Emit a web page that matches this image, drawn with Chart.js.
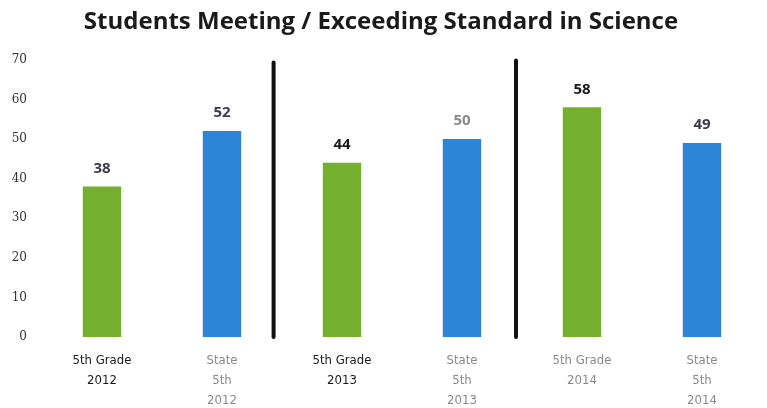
<!DOCTYPE html>
<html>
<head>
<meta charset="utf-8">
<script src="https://cdn.jsdelivr.net/npm/chart.js@4/dist/chart.umd.min.js"></script>
<style>
  html, body { margin: 0; padding: 0; background: #fff; }
  #wrap { width: 767px; height: 408px; }
</style>
</head>
<body>
<div id="wrap"><canvas id="chart"></canvas></div>
<script>
// --------------- Data ---------------
const TITLE = 'Students Meeting / Exceeding Standard in Science';

const categories = [
  ['5th Grade', '2012'],
  ['State', '5th', '2012'],
  ['5th Grade', '2013'],
  ['State', '5th', '2013'],
  ['5th Grade', '2014'],
  ['State', '5th', '2014'],
];
const values      = [38, 52, 44, 50, 58, 49];
const barColors   = ['#74b02e', '#2b84d6', '#74b02e', '#2b84d6', '#74b02e', '#2b84d6'];
const valueColors = ['#3b3b4f', '#3b3b4f', '#1a1a1a', '#8a8a8a', '#1a1a1a', '#3b3b4f'];
const tickColors  = ['#1a1a1a', '#8a8a8a', '#1a1a1a', '#8a8a8a', '#8a8a8a', '#8a8a8a'];

// vertical divider lines: position on the category axis + top value
const dividerPos = [1.43, 3.45];
const dividerTop = [69.3, 69.8];

const Y_MIN = 0, Y_MAX = 70, Y_STEP = 10;

// --------------- Plugins ---------------
const valueLabels = {
  id: 'valueLabels',
  afterDatasetsDraw(chart) {
    const { ctx } = chart;
    const meta = chart.getDatasetMeta(0);
    ctx.save();
    ctx.font = 'bold 15px "Open Sans", sans-serif';
    ctx.textAlign = 'center';
    ctx.textBaseline = 'middle';
    meta.data.forEach((bar, i) => {
      ctx.fillStyle = valueColors[i];
      ctx.fillText(String(values[i]), bar.x, bar.y - 18);
    });
    ctx.restore();
  },
};

const dividers = {
  id: 'dividers',
  afterDatasetsDraw(chart) {
    const { ctx, scales: { x, y } } = chart;
    ctx.save();
    ctx.strokeStyle = '#111';
    ctx.lineWidth = 4;
    ctx.lineCap = 'round';
    dividerPos.forEach((p, i) => {
      const px = x.getPixelForValue(p);
      ctx.beginPath();
      ctx.moveTo(px, y.getPixelForValue(dividerTop[i]));
      ctx.lineTo(px, y.getPixelForValue(0));
      ctx.stroke();
    });
    ctx.restore();
  },
};

// --------------- Chart ---------------
new Chart(document.getElementById('chart').getContext('2d'), {
  type: 'bar',
  data: {
    labels: categories,
    datasets: [{
      data: values,
      backgroundColor: barColors,
      borderWidth: 0,
      barPercentage: 0.32,
      categoryPercentage: 1,
    }],
  },
  options: {
    responsive: true,
    maintainAspectRatio: false,
    animation: false,
    layout: { padding: { top: 0, right: 5, bottom: 0, left: 0 } },
    plugins: {
      legend: { display: false },
      tooltip: { enabled: false },
      title: {
        display: true,
        text: TITLE,
        color: '#1a1a1a',
        font: { family: '"Open Sans", sans-serif', size: 24, weight: 'bold', lineHeight: 1.2 },
        padding: { top: 8, bottom: 23 },
      },
    },
    scales: {
      x: {
        grid: { display: false, drawTicks: false },
        border: { display: false },
        afterFit: scale => { scale.height = 71; },
        ticks: {
          color: ctx => tickColors[ctx.index],
          font: { family: '"Liberation Sans Narrow", "DejaVu Sans Condensed", Lato, sans-serif', size: 13, lineHeight: 1.54 },
          padding: 14,
          maxRotation: 0,
          autoSkip: false,
        },
      },
      y: {
        min: Y_MIN,
        max: Y_MAX,
        grid: { display: false, drawTicks: false },
        border: { display: false },
        afterFit: scale => { scale.width = 42; },
        ticks: {
          stepSize: Y_STEP,
          color: '#333',
          font: { family: '"DejaVu Serif", serif', size: 12 },
          padding: 15,
        },
      },
    },
  },
  plugins: [valueLabels, dividers],
});
</script>
</body>
</html>
